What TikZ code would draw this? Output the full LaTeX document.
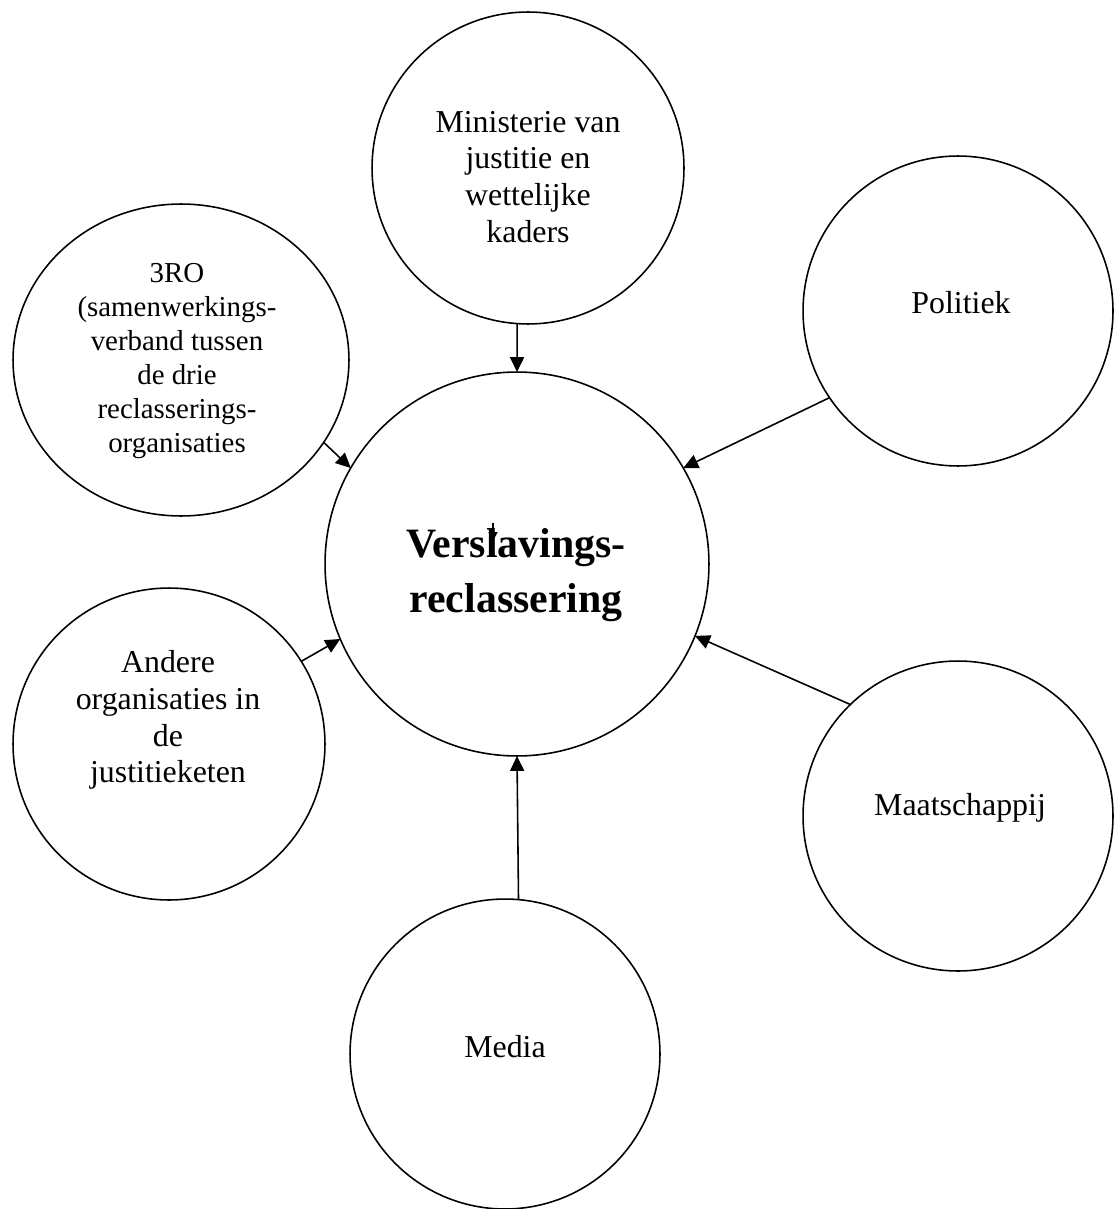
\documentclass[tikz,border=0pt]{standalone}
\usepackage{fontspec}
\setmainfont{Liberation Serif}
\usetikzlibrary{arrows.meta,shapes.geometric}
\begin{document}
\begin{tikzpicture}[x=0.02cm,y=-0.02cm,
  bub/.style={draw, line width=0.9pt, inner sep=0pt, outer sep=0pt},
  rnd/.style={bub, circle, minimum size=#1},
  txt/.style={inner sep=0pt, align=center, font=\fontsize{18.14pt}{20.98pt}\selectfont},
  con/.style={line width=0.9pt, -{Triangle[length=8.5pt,width=8pt]}}
]
\useasboundingbox (0,0) rectangle (1114,1209);

\node[rnd=7.68cm] (c) at (517,564) {};
\node[rnd=6.24cm] (mi) at (528,168) {};
\node[bub, ellipse, minimum width=6.72cm, minimum height=6.24cm] (ro) at (181,360) {};
\node[rnd=6.2cm] (po) at (958,311) {};
\node[rnd=6.24cm] (an) at (169,744) {};
\node[rnd=6.2cm] (ma) at (958,816) {};
\node[rnd=6.2cm] (me) at (505,1054) {};

\node[txt] (mi-t) at (528,177) {Ministerie van\\justitie en\\wettelijke\\kaders};
\node[txt, font=\fontsize{16.44pt}{19.28pt}\selectfont] (ro-t) at (177,361) {3RO\\(samenwerkings-\\verband tussen\\de drie\\reclasserings-\\organisaties};
\node[txt] (po-t) at (961,303) {Politiek};
\node[txt] (an-t) at (168,720) {Andere\\organisaties in\\de\\justitieketen};
\node[txt] (ma-t) at (960,808) {Maatschappij};
\node[txt] (me-t) at (505,1047) {Media};
\node[txt, font=\fontsize{23.8pt}{31.2pt}\selectfont\bfseries] (c-t) at (516,575) {Verslavings-\\reclassering};

\draw[con] (mi.-94) -- (c.north);
\draw[con] (ro.-30) -- (c.150);
\draw[con] (po.-146.7) -- (c.30);
\draw[con] (an.32.6) -- (c.203);
\draw[con] (ma.134) -- (c.-22.5);
\draw[con] (me.85.6) -- (c.south);

\coordinate (t1) at (493,523);
\coordinate (t2) at (493,541);
\draw[line width=0.9pt, -{Triangle[length=5pt,width=5pt]}] (t1) -- (t2);
\end{tikzpicture}
\end{document}
